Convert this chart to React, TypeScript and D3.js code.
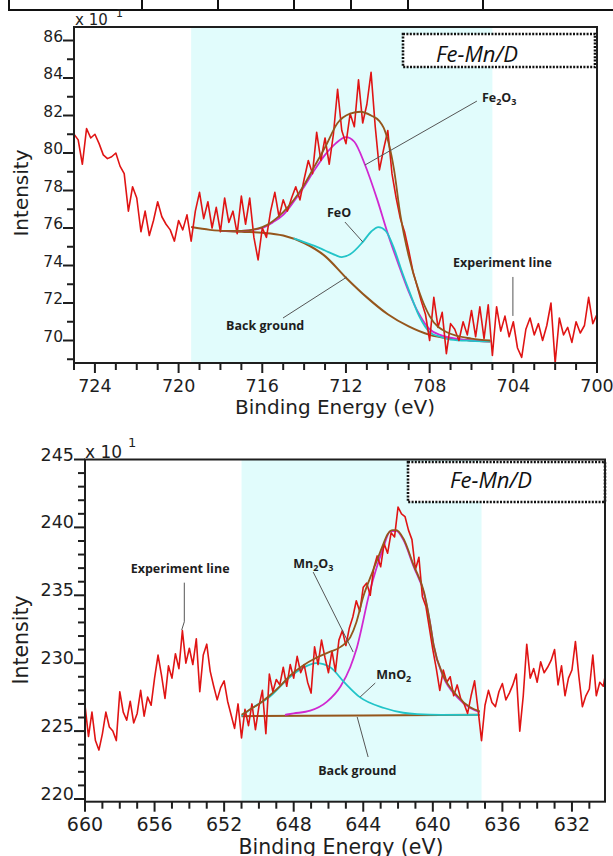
import React from 'react';
import * as d3 from 'd3';

const W = 613;
const H = 856;

const RED = '#e01414';
const MAGENTA = '#d028d0';
const CYAN = '#22c4c8';
const BROWN = '#95561c';
const INK = '#1e1e1e';

// ---- Fe 2p panel (top) ----
const feStart = 725.0;
const feStep = 0.2;
const feCounts = [
  81.0, 80.7, 79.4, 81.3, 80.8, 81.0, 80.5, 79.9, 79.7, 79.8,
  80.0, 79.3, 78.9, 76.9, 78.2, 77.6, 75.8, 76.9, 75.6, 76.4,
  77.4, 76.6, 76.2, 75.9, 75.3, 76.4, 75.9, 76.7, 75.3, 76.9,
  77.9, 76.5, 77.4, 76.0, 77.1, 75.8, 77.6, 76.3, 76.9, 75.7,
  77.7, 76.2, 77.6, 75.5, 74.3, 76.0, 75.5, 76.9, 77.9, 76.6,
  77.5, 76.9, 77.6, 78.2, 77.5, 78.6, 79.6, 78.9, 81.1, 79.6,
  80.8, 79.4, 81.0, 83.4, 81.2, 80.5, 82.1, 81.4, 83.9, 81.6,
  82.6, 84.3, 81.4, 79.1, 80.2, 81.2, 78.9, 77.6, 76.5, 75.8,
  74.8, 73.7, 72.9, 72.1, 71.4, 70.0, 72.3, 70.7, 71.5, 69.3,
  70.9, 70.6, 70.0, 71.0, 70.3, 71.6, 70.2, 71.8, 70.1, 71.9,
  69.2, 71.8, 70.5, 71.3, 70.2, 71.0, 69.6, 69.1, 70.6, 71.2,
  70.3, 70.9, 70.0, 70.8, 72.0, 68.8, 71.2, 70.3, 70.7, 69.9,
  71.0, 70.4, 70.8, 72.3, 70.9, 71.4,
];
const feShade = [719.4, 705.0];
const feBackground = [
  [719.4, 76.05], [718.5, 75.9], [717, 75.8], [716, 75.75], [715, 75.6], [714, 75.2],
  [713, 74.5], [712, 73.35], [711, 72.3], [710, 71.4], [709, 70.75], [708, 70.3],
  [707, 70.1], [706, 70.0], [705.1, 69.95],
];
const feFe2O3 = [
  [718, 75.85], [717, 75.85], [716, 76.0], [715.5, 76.3], [715, 76.7], [714.5, 77.4],
  [714, 78.2], [713.5, 79.1], [713, 79.9], [712.5, 80.5], [712, 80.85], [711.6, 80.6],
  [711.1, 79.4], [710.5, 77.5], [710, 75.7], [709.5, 74.1], [709, 72.6], [708.5, 71.4],
  [708, 70.6], [707.5, 70.3], [707, 70.15], [706, 70.0], [705.1, 69.95],
];
const feFeO = [
  [714.5, 75.45], [714, 75.25], [713.5, 75.05], [713, 74.8], [712.5, 74.55], [712.2, 74.45],
  [711.8, 74.6], [711.2, 75.25], [710.8, 75.8], [710.45, 76.05], [710.1, 75.85], [709.7, 74.9],
  [709.3, 73.6], [709, 72.7], [708.5, 71.3], [708, 70.45], [707.5, 70.2], [707, 70.05],
  [706, 69.98], [705.1, 69.95],
];
const feEnvelope = [
  [718, 75.85], [717, 75.85], [716, 76.05], [715, 76.85], [714, 78.3], [713.5, 79.3],
  [713, 80.3], [712.4, 81.6], [711.8, 82.1], [711.3, 82.2], [710.8, 82.0], [710.4, 81.7],
  [710.2, 81.35], [709.7, 79.1], [709.4, 76.7], [709, 74.5], [708.5, 72.6], [708, 71.3],
  [707.2, 70.45], [706, 70.1], [705.1, 70.0],
];
const feXTicks = [724, 720, 716, 712, 708, 704, 700];
const feYTicks = [70, 72, 74, 76, 78, 80, 82, 84, 86];
const feNotes = [
  { label: 'Fe_2O_3', at: [705.5, 82.72], leader: [[705.74, 82.77], [711.09, 79.36]] },
  { label: 'FeO', at: [712.91, 76.59], leader: [[712.05, 76.32], [711.19, 75.25]] },
  { label: 'Experiment line', at: [706.88, 73.92], leader: [[704.02, 73.39], [704.02, 71.31]] },
  { label: 'Back ground', at: [717.73, 70.56], leader: [[715.01, 71.2], [711.95, 73.39]] },
];

// ---- Mn 2p panel (bottom) ----
const mnStart = 660.0;
const mnStep = 0.2;
const mnCounts = [
  226.9, 224.6, 226.4, 224.3, 223.6, 224.8, 226.4, 225.3, 225.0, 224.3,
  227.9, 226.4, 225.8, 227.2, 225.6, 226.3, 228.0, 226.1, 227.5, 226.9,
  228.9, 230.6, 229.1, 227.4, 229.8, 228.9, 230.7, 229.6, 232.4, 230.0,
  231.1, 229.9, 231.8, 227.9, 230.6, 231.4, 229.4, 228.3, 227.3, 228.2,
  228.7, 227.2, 226.2, 225.2, 227.0, 224.5, 226.6, 225.4, 227.0, 225.1,
  226.8, 228.0, 224.8, 229.2, 227.9, 228.8, 228.4, 229.7, 228.3, 229.9,
  228.9, 230.5, 229.3, 229.9, 228.6, 227.8, 231.2, 229.9, 231.7, 230.4,
  229.3, 230.9, 229.4, 231.7, 232.4, 231.3, 232.6, 233.4, 234.6, 233.8,
  235.6, 235.9, 235.0, 237.0, 237.9, 237.1, 238.8, 238.1, 239.6, 239.3,
  241.5, 241.0, 240.8, 239.8, 239.1, 236.9, 237.8, 234.9, 234.2, 232.6,
  231.0, 229.6, 228.0, 229.5, 228.6, 229.0, 227.6, 228.4, 227.4, 227.0,
  226.3, 227.6, 228.7, 226.6, 224.3, 226.9, 228.0, 227.1, 226.8, 227.9,
  228.5, 227.3, 227.8, 228.4, 229.2, 225.0, 227.6, 231.4, 228.9, 229.6,
  228.6, 230.1, 229.3, 229.7, 230.2, 231.0, 228.4, 229.8, 227.6, 228.9,
  229.5, 231.6, 229.0, 226.8, 227.6, 228.1, 230.6, 227.6, 228.6, 228.3,
  229.7,
];
const mnShade = [651.0, 637.2];
const mnBackground = [[651, 226.1], [644, 226.15], [637.3, 226.2]];
const mnMn2O3 = [
  [648.5, 226.2], [648, 226.3], [647.05, 226.5], [646.1, 227.15], [645.3, 228.3], [644.75, 229.7],
  [644.4, 231.0], [643.6, 235.4], [642.9, 238.3], [642.45, 239.7], [642.1, 239.75], [641.7, 239.1],
  [641.1, 237.1], [640.5, 235.1], [640.15, 232.9], [639.95, 231.3], [639.4, 229.0], [638.6, 227.5],
  [637.85, 226.7], [637.3, 226.4],
];
const mnMnO2 = [
  [651, 226.1], [650.7, 226.4], [650.5, 226.6], [649.4, 227.5], [648.2, 229.0], [647.4, 229.7],
  [646.7, 230.0], [645.9, 229.7], [645.1, 228.6], [644.2, 227.5], [642.8, 226.7], [641.7, 226.35],
  [640.9, 226.25], [639.5, 226.2], [637.3, 226.2],
];
const mnEnvelope = [
  [651, 226.2], [650.5, 226.6], [650, 227.0], [649.4, 227.6], [648.8, 228.3], [648.2, 229.1],
  [647.5, 229.8], [646.7, 230.4], [646, 230.8], [645.3, 231.2], [644.75, 231.9], [644.4, 233.0],
  [644, 234.9], [643.6, 236.3], [643.2, 237.6], [642.9, 238.6], [642.6, 239.5], [642.3, 239.8],
  [642.1, 239.8], [641.7, 239.2], [641.1, 237.2], [640.5, 235.2], [640.15, 232.9], [639.95, 231.3],
  [639.4, 229.1], [638.6, 227.6], [637.85, 226.75], [637.3, 226.45],
];
const mnXTicks = [660, 656, 652, 648, 644, 640, 636, 632];
const mnYTicks = [220, 225, 230, 235, 240, 245];
const mnNotes = [
  { label: 'Experiment line', at: [657.37, 236.66], leader: [[654.29, 235.93], [654.29, 233.05], [654.44, 232.44]] },
  { label: 'Mn_2O_3', at: [648.03, 237.01], leader: [[646.88, 236.71], [644.58, 230.82]] },
  { label: 'MnO_2', at: [643.26, 228.84], leader: [[643.31, 228.54], [644.18, 227.51]] },
  { label: 'Back ground', at: [646.59, 221.77], leader: [[643.72, 223.09], [644.35, 226.04]] },
];

const tableCols = [9, 142, 218, 294, 351, 408, 483];

const panels = [
  {
    id: 'fe', frame: { left: 74, top: 27, right: 597, bottom: 363 },
    xDomain: [725, 700], yDomain: [68.8, 86.72],
    start: feStart, step: feStep, counts: feCounts, shade: feShade,
    background: feBackground, peakA: feFe2O3, peakB: feFeO, envelope: feEnvelope,
    xTicks: feXTicks, yTicks: feYTicks, notes: feNotes,
    xFont: 17.5, yFont: 15.5, titleFont: 20, titleX: 335, titleY: 193, titleDy: 51,
    legend: { x: 403, y: 34, w: 192, h: 33, tx: 477, ty: 62 },
    scale: { x: 75, y: 25, size: 15, sx: 116, sy: 17, ssize: 11 },
  },
  {
    id: 'mn', frame: { left: 85, top: 459.5, right: 605, bottom: 801.7 },
    xDomain: [660, 630.1], yDomain: [219.8, 245],
    start: mnStart, step: mnStep, counts: mnCounts, shade: mnShade,
    background: mnBackground, peakA: mnMn2O3, peakB: mnMnO2, envelope: mnEnvelope,
    xTicks: mnXTicks, yTicks: mnYTicks, notes: mnNotes,
    xFont: 19, yFont: 17.5, titleFont: 20.5, titleX: 341, titleY: 640, titleDy: 52,
    legend: { x: 408, y: 462, w: 197, h: 40, tx: 491, ty: 488 },
    scale: { x: 85, y: 458, size: 17, sx: 128, sy: 447, ssize: 13 },
  },
];

function SubLabel({ label, x, y }: { label: string; x: number; y: number }) {
  const parts = label.split(/(_\d)/).filter(Boolean);
  let down = false;
  const spans = parts.map((s, i) => {
    if (s.startsWith('_')) {
      const dy = down ? 0 : 3;
      down = true;
      return <tspan key={i} fontSize={9} dy={dy}>{s.slice(1)}</tspan>;
    }
    const dy = down ? -3 : 0;
    down = false;
    return <tspan key={i} dy={dy}>{s}</tspan>;
  });
  return (
    <text x={x} y={y} fontFamily="'Open Sans', sans-serif" fontWeight={700} fontSize={12.5} fill={INK}>
      {spans}
    </text>
  );
}

function Panel({ p }: { p: any }) {
  const { left, top, right, bottom } = p.frame;
  const x = d3.scaleLinear().domain(p.xDomain).range([left, right]);
  const y = d3.scaleLinear().domain(p.yDomain).range([bottom, top]);
  const fit = d3.line<number[]>().x(d => x(d[0])).y(d => y(d[1])).curve(d3.curveMonotoneX);
  const raw = d3.line<number>().x((_, i) => x(p.start - i * p.step)).y(d => y(d));
  const leader = d3.line<number[]>().x(d => x(d[0])).y(d => y(d[1]));
  const [xlo, xhi] = d3.extent(p.xDomain as number[]) as [number, number];
  const [ylo, yhi] = d3.extent(p.yDomain as number[]) as [number, number];
  const xMinor = d3.range(Math.ceil(xlo), Math.floor(xhi) + 1);
  const yMinor = d3.range(Math.ceil(ylo), Math.floor(yhi) + 1);
  const clipId = `clip-${p.id}`;
  const lg = p.legend;
  const sc = p.scale;

  return (
    <g>
      <defs>
        <clipPath id={clipId}>
          <rect x={left} y={top} width={right - left} height={bottom - top} />
        </clipPath>
      </defs>
      <rect x={x(p.shade[0])} y={top} width={x(p.shade[1]) - x(p.shade[0])} height={bottom - top} fill="#e1fcfc" />
      <g clipPath={`url(#${clipId})`} fill="none" strokeLinejoin="round">
        <path d={fit(p.background) || ''} stroke={BROWN} strokeWidth={2} />
        <path d={fit(p.peakA) || ''} stroke={MAGENTA} strokeWidth={1.8} />
        <path d={fit(p.peakB) || ''} stroke={CYAN} strokeWidth={1.8} />
        <path d={raw(p.counts) || ''} stroke={RED} strokeWidth={1.6} />
        <path d={fit(p.envelope) || ''} stroke={BROWN} strokeWidth={1.8} />
      </g>

      {/* legend */}
      <rect x={lg.x} y={lg.y} width={lg.w} height={lg.h} fill="#fff" stroke="#111"
        strokeWidth={2.6} strokeDasharray="2 1.4" />
      <text x={lg.tx} y={lg.ty} textAnchor="middle" fontFamily="'Open Sans', sans-serif"
        fontStyle="italic" fontSize={22} fill="#111">Fe-Mn/D</text>

      {/* annotations */}
      {p.notes.map((n: any, i: number) => (
        <g key={i}>
          <path d={leader(n.leader) || ''} fill="none" stroke="#555" strokeWidth={1} />
          <SubLabel label={n.label} x={x(n.at[0])} y={y(n.at[1])} />
        </g>
      ))}

      {/* frame */}
      <rect x={left} y={top} width={right - left} height={bottom - top} fill="none" stroke={INK} strokeWidth={2} />

      {/* ticks */}
      <g stroke={INK} strokeWidth={2}>
        {xMinor.map(v => (
          <line key={'xm' + v} x1={x(v)} x2={x(v)} y1={bottom} y2={bottom + (p.xTicks.includes(v) ? 10 : 7)} />
        ))}
        {yMinor.map(v => (
          <line key={'ym' + v} x1={left - (p.yTicks.includes(v) ? 11 : 7)} x2={left} y1={y(v)} y2={y(v)} />
        ))}
      </g>
      <g fontFamily="'DejaVu Sans', sans-serif" fill={INK}>
        {p.xTicks.map((v: number) => (
          <text key={'xl' + v} x={x(v)} y={bottom + 29} textAnchor="middle" fontSize={p.xFont}>{v}</text>
        ))}
        {p.yTicks.map((v: number) => (
          <text key={'yl' + v} x={left - 11} y={y(v) + 1} textAnchor="end" fontSize={p.yFont}>{v}</text>
        ))}
        <text x={sc.x} y={sc.y} fontSize={sc.size}>x 10</text>
        <text x={sc.sx} y={sc.sy} fontSize={sc.ssize}>1</text>
        <text x={p.titleX} y={bottom + p.titleDy} textAnchor="middle" fontSize={p.titleFont}>Binding Energy (eV)</text>
        <text transform={`translate(28,${p.titleY}) rotate(-90)`} textAnchor="middle" fontSize={p.titleFont}>Intensity</text>
      </g>
    </g>
  );
}

export default function App() {
  return (
    <svg width={W} height={H} viewBox={`0 0 ${W} ${H}`}
      style={{ position: 'absolute', left: 0, top: 0, background: '#fff' }}>
      <rect width={W} height={H} fill="#fff" />
      <g stroke="#111" strokeWidth={2}>
        <line x1={8} x2={W} y1={10} y2={10} />
        {tableCols.map(c => <line key={c} x1={c} x2={c} y1={0} y2={10} />)}
      </g>
      {panels.map(p => <Panel key={p.id} p={p} />)}
    </svg>
  );
}
